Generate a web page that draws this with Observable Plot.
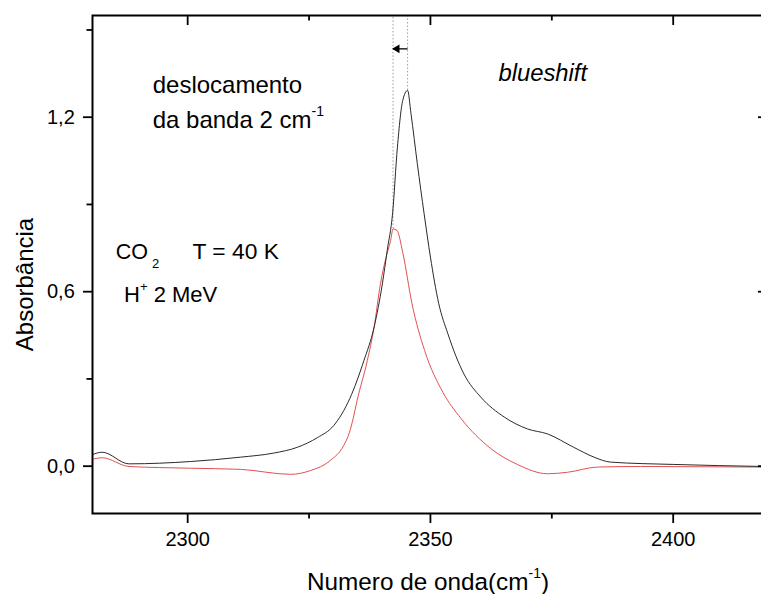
<!DOCTYPE html>
<html>
<head>
<meta charset="utf-8">
<script src="https://cdn.jsdelivr.net/npm/d3@7"></script>
<script src="https://cdn.jsdelivr.net/npm/@observablehq/plot@0.6"></script>
<style>
  html, body { margin: 0; padding: 0; background: #fff; overflow: hidden; }
</style>
</head>
<body>
<div id="chart"></div>
<script>
// Espectro 1 (preto): banda do CO2 com máximo em ~2345 cm-1
const nu1 = [2280.4, 2282.4, 2287.9, 2300.6, 2310.9, 2317.7, 2322.6, 2326.7, 2330.1, 2333.4,
             2336.3, 2338.4, 2340.1, 2341.1, 2342.2, 2343.2, 2344.3, 2345.3, 2346.0, 2347.3,
             2348.7, 2350.0, 2351.7, 2353.6, 2356.9, 2360.4, 2365.2, 2370.0, 2374.1, 2379.5,
             2383.7, 2387.1, 2400.1, 2418.6];
const abs1 = [0.040, 0.048, 0.008, 0.016, 0.031, 0.045, 0.065, 0.098, 0.140, 0.233,
              0.363, 0.478, 0.627, 0.742, 0.868, 1.097, 1.258, 1.292, 1.212, 1.040,
              0.868, 0.719, 0.560, 0.455, 0.317, 0.237, 0.169, 0.128, 0.111, 0.065,
              0.031, 0.014, 0.006, -0.001];

// Espectro 2 (vermelho): banda com máximo em ~2342 cm-1
const nu2 = [2280.4, 2282.4, 2287.9, 2300.6, 2310.9, 2321.2, 2325.3, 2329.4, 2332.1, 2333.3,
             2334.1, 2334.9, 2337.0, 2338.4, 2339.7, 2340.8, 2341.8, 2342.3, 2343.1, 2344.3,
             2346.2, 2348.8, 2352.6, 2356.3, 2362.4, 2367.9, 2374.1, 2378.2, 2384.4, 2393.3,
             2405.6, 2418.6];
const abs2 = [0.024, 0.029, -0.001, -0.007, -0.011, -0.028, -0.015, 0.020, 0.070, 0.115,
              0.165, 0.226, 0.363, 0.478, 0.627, 0.714, 0.776, 0.816, 0.811, 0.735,
              0.559, 0.398, 0.253, 0.164, 0.061, 0.006, -0.026, -0.021, -0.003, -0.001,
              -0.002, -0.003];

const xTicksMajor = [2300, 2350, 2400];
const xTicksMinor = [2325, 2375];
const yTicksMajor = [0, 0.6, 1.2];
const yTicksMinor = [0.3, 0.9, 1.5];

const xDomain = [2280.4, 2418.6];
const yDomain = [-0.1627, 1.5497];

const serie1 = nu1.map((nu, i) => ({nu, abs: abs1[i]}));
const serie2 = nu2.map((nu, i) => ({nu, abs: abs2[i]}));

// máximos das duas bandas: linhas pontilhadas e seta do deslocamento
const pico1 = serie1.reduce((a, b) => (b.abs > a.abs ? b : a));
const pico2 = serie2.reduce((a, b) => (b.abs > a.abs ? b : a));
const picos = [pico2, pico1];
const alturaSeta = 1.435;
const seta = [{x1: pico1.nu, x2: pico2.nu, y: alturaSeta}];

const fmtY = d => d.toFixed(1).replace(".", ",");
const vazio = () => "";
const tickW = 1.8;

const plot = Plot.plot({
  width: 761,
  height: 594,
  marginLeft: 92,
  marginRight: -2,
  marginTop: 15,
  marginBottom: 81,
  x: {domain: xDomain},
  y: {domain: yDomain},
  style: {
    fontFamily: "'Liberation Sans', Arimo, Arial, sans-serif",
    fontSize: "20px",
    color: "#000",
    background: "#fff"
  },
  marks: [
    Plot.ruleX(picos, {x: "nu", y1: "abs", y2: yDomain[1], stroke: "#9a9a9a", strokeWidth: 1, strokeDasharray: "1.5,2"}),
    Plot.line(serie2, {x: "nu", y: "abs", stroke: "#e2504f", strokeWidth: 1, curve: "monotone-x"}),
    Plot.line(serie1, {x: "nu", y: "abs", stroke: "#2a2a2a", strokeWidth: 1, curve: "monotone-x"}),
    Plot.link(seta, {x1: "x1", x2: "x2", y1: "y", y2: "y", stroke: "#000", strokeWidth: 1.3}),
    Plot.dot(seta, {x: "x2", y: "y", symbol: "triangle", rotate: -90, r: 3.2, fill: "#000", stroke: null, dx: 4}),

    Plot.axisX({anchor: "bottom", ticks: xTicksMajor, tickSize: 10, tickPadding: 8.5, strokeWidth: tickW, label: null, tickFormat: d => String(d), fontSize: 20}),
    Plot.axisX({anchor: "bottom", ticks: xTicksMinor, tickSize: 5.5, strokeWidth: tickW, label: null, tickFormat: vazio}),
    Plot.axisX({anchor: "top", ticks: xTicksMajor, tickSize: 9, dy: 9, strokeWidth: tickW, label: null, tickFormat: vazio}),
    Plot.axisX({anchor: "top", ticks: xTicksMinor, tickSize: 4.5, dy: 4.5, strokeWidth: tickW, label: null, tickFormat: vazio}),
    Plot.axisY({anchor: "left", ticks: yTicksMajor, tickSize: 9, tickPadding: 8.7, strokeWidth: tickW, label: null, tickFormat: fmtY, fontSize: 20}),
    Plot.axisY({anchor: "left", ticks: yTicksMinor, tickSize: 5.5, strokeWidth: tickW, label: null, tickFormat: vazio}),
    Plot.axisY({anchor: "right", ticks: yTicksMajor, tickSize: 6, dx: -6, strokeWidth: tickW, label: null, tickFormat: vazio}),
    Plot.axisY({anchor: "right", ticks: yTicksMinor, tickSize: 3, dx: -3, strokeWidth: tickW, label: null, tickFormat: vazio}),
    Plot.frame({stroke: "#000", strokeWidth: 2}),

    Plot.text(["deslocamento"], {x: 2292.8, y: 1.283, textAnchor: "start", lineAnchor: "bottom", fontSize: 24}),
    Plot.text(["da banda 2 cm"], {x: 2292.8, y: 1.164, textAnchor: "start", lineAnchor: "bottom", fontSize: 24}),
    Plot.text(["blueshift"], {x: 2364.0, y: 1.324, textAnchor: "start", lineAnchor: "bottom", fontSize: 23.8, fontStyle: "italic"}),
    Plot.text(["CO"], {x: 2285.2, y: 0.713, textAnchor: "start", lineAnchor: "bottom", fontSize: 21.5}),
    Plot.text(["T = 40 K"], {x: 2301.0, y: 0.713, textAnchor: "start", lineAnchor: "bottom", fontSize: 22.8}),
    Plot.text(["H"], {x: 2286.9, y: 0.564, textAnchor: "start", lineAnchor: "bottom", fontSize: 22}),

    Plot.text(["Numero de onda(cm"], {frameAnchor: "bottom", textAnchor: "middle", dy: 76.5, lineAnchor: "bottom", fontSize: 24.3}),
    Plot.text(["Absorbância"], {frameAnchor: "left", textAnchor: "middle", rotate: -90, dx: -60, dy: 20, lineAnchor: "bottom", fontSize: 24})
  ]
});

// índices e expoentes como tspans
function comTspans(svg, base, partes) {
  svg.querySelectorAll("text").forEach(el => {
    if (el.textContent !== base) return;
    for (const p of partes) {
      const ts = document.createElementNS("http://www.w3.org/2000/svg", "tspan");
      ts.textContent = p.t;
      if (p.size) ts.setAttribute("font-size", p.size);
      if (p.dy) ts.setAttribute("dy", p.dy);
      if (p.dx) ts.setAttribute("dx", p.dx);
      el.appendChild(ts);
    }
  });
}

comTspans(plot, "da banda 2 cm", [{t: "-1", size: 14, dy: -12}]);
comTspans(plot, "Numero de onda(cm", [{t: "-1", size: 14, dy: -12}, {t: ")", dy: 12}]);
comTspans(plot, "CO", [{t: "2", size: 13, dy: 9, dx: 4}]);
comTspans(plot, "H", [{t: "+", size: 13, dy: -11}, {t: " 2 MeV", dy: 11}]);

document.getElementById("chart").appendChild(plot);
</script>
</body>
</html>
